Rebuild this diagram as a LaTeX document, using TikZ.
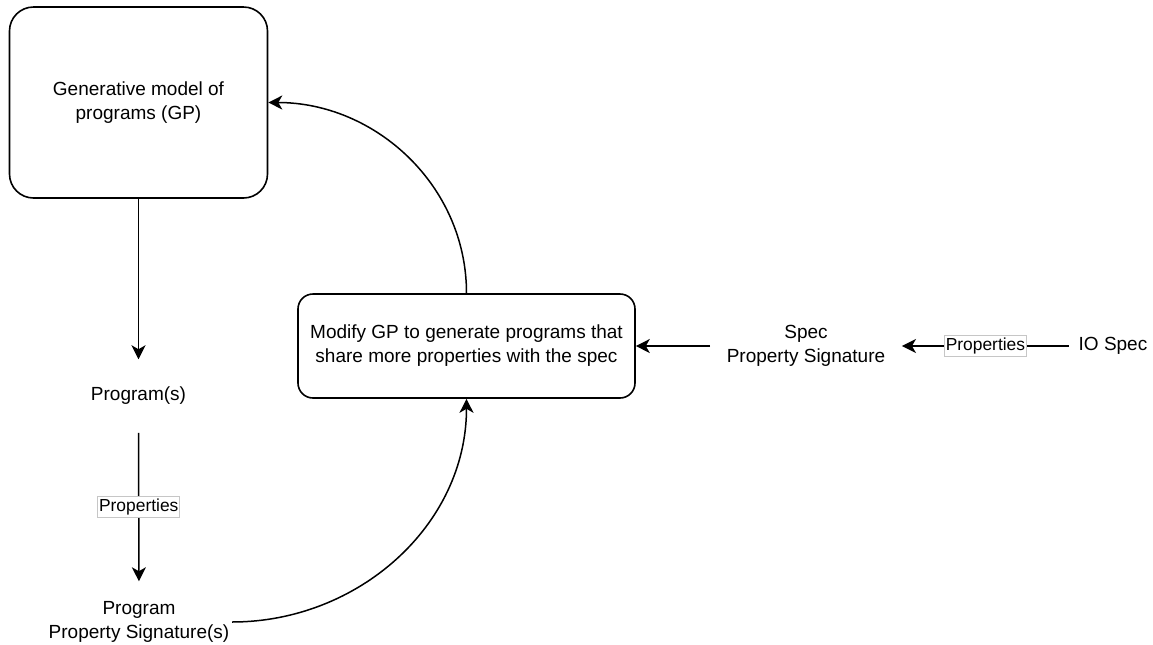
\documentclass[tikz,border=0pt]{standalone}
\usepackage{fontspec}
\setmainfont{Liberation Sans}
\usetikzlibrary{positioning, arrows.meta}
\tikzset{
  block/.style={rectangle, draw, thick, align=center, inner sep=2pt},
  bigblock/.style={block, rounded corners=12pt, minimum width=129pt, minimum height=95.5pt},
  smallblock/.style={block, rounded corners=7.5pt, minimum width=168.5pt, minimum height=52pt},
  plain/.style={align=center, inner sep=0pt},
  prop/.style={draw=gray!45, fill=white, line width=0.4pt, inner xsep=0.6pt, inner ysep=1pt,
    font=\fontsize{8.7}{10}\selectfont}
}

\begin{document}
\begin{tikzpicture}[
  x=0.5pt, y=-0.5pt,
  >={Stealth[length=7pt, width=7pt, inset=2pt]},
  every node/.style={font=\fontsize{9.5}{12}\selectfont},
  every path/.style={line width=0.75pt}
]
  \useasboundingbox (0,0) rectangle (1153,644);

  % Model and update step
  \node[bigblock] (GP) at (138.5,102.5) {Generative model of\\programs (GP)};
  \node[smallblock] (Mod) at (466.5,346) {Modify GP to generate programs that\\share more properties with the spec};

  % Program side
  \node[plain, minimum height=36pt] (Prog) at (138.5,396) {Program(s)};
  \node[plain, minimum height=40pt, inner xsep=1pt] (Sig) at (139,622) {Program\\Property Signature(s)};

  % Spec side
  \node[plain, inner xsep=8pt] (Spec) at (806,346) {Spec\\Property Signature};
  \node[plain, inner xsep=4.5pt] (IO) at (1113,346) {IO Spec};

  % Edges
  \draw[->] (GP) -- (Prog);
  \draw[->] (Prog) -- node[prop] {Properties} (Sig);
  \draw[->] (Sig.east) to[out=0, in=-90] (Mod.south);
  \draw[->] (Mod.north) to[out=90, in=0] (GP.east);
  \draw[->] (Spec) -- (Mod);
  \draw[->] (IO) -- node[prop] {Properties} (Spec);

\end{tikzpicture}
\end{document}
